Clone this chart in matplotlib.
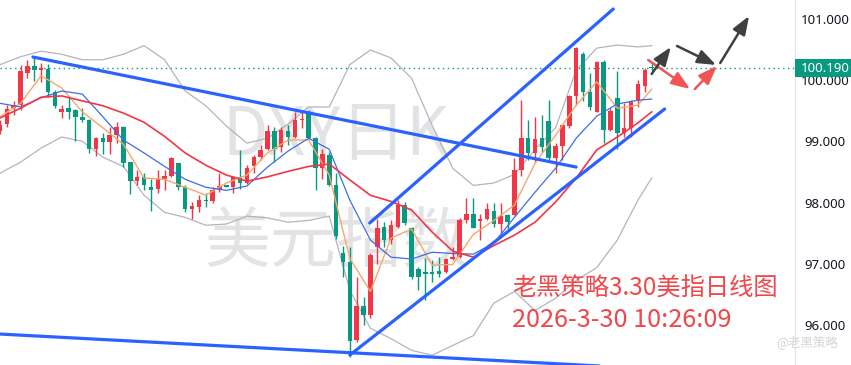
import matplotlib
matplotlib.use("Agg")
import matplotlib.pyplot as plt
import matplotlib.transforms as mtransforms
from matplotlib.patches import Rectangle

# daily candles, oldest first (price)
opens = [99.16, 99.29, 99.54, 99.59, 100.12, 100.23, 100.17, 100.18, 99.81, 99.47,
         99.54, 99.51, 99.39, 99.35, 98.88, 99.05, 98.99, 99.11, 99.23, 98.66,
         98.35, 98.41, 98.26, 98.22, 98.38, 98.43, 98.64, 98.26, 97.90, 97.93,
         98.04, 98.02, 98.22, 98.28, 98.26, 98.41, 98.32, 98.59, 98.74, 98.88,
         99.16, 98.91, 99.16, 99.07, 99.35, 99.48, 99.05, 98.56, 98.77, 98.28,
         97.18, 97.03, 95.76, 96.32, 96.17, 97.28, 97.61, 97.39, 97.61, 97.96,
         97.58, 96.91, 96.87, 96.87, 96.88, 96.87, 97.08, 97.11, 97.72, 97.82,
         97.70, 97.74, 97.86, 97.65, 97.79, 97.79, 98.54, 99.06, 98.81, 99.06,
         99.33, 98.73, 98.92, 99.25, 99.74, 100.42, 99.80, 99.48, 100.30, 99.19,
         99.70, 99.14, 99.21, 99.65, 99.91, 100.20]
highs = [99.35, 99.59, 99.66, 100.25, 100.33, 100.39, 100.28, 100.26, 99.84, 99.59,
         99.74, 99.53, 99.55, 99.36, 99.07, 99.13, 99.23, 99.32, 99.25, 98.67,
         98.53, 98.48, 98.38, 98.53, 98.53, 98.75, 98.65, 98.28, 98.01, 98.12,
         98.15, 98.26, 98.48, 98.28, 98.43, 98.86, 98.61, 98.77, 98.94, 99.26,
         99.24, 99.24, 99.26, 99.48, 99.48, 99.51, 99.07, 98.88, 98.83, 98.48,
         97.30, 97.28, 96.79, 96.46, 97.17, 97.74, 97.68, 97.71, 98.04, 98.01,
         97.61, 96.95, 97.09, 97.06, 97.11, 97.09, 97.28, 97.75, 98.07, 98.07,
         97.82, 97.99, 97.99, 97.99, 97.82, 98.72, 99.68, 99.35, 99.40, 99.43,
         99.68, 98.97, 99.29, 99.75, 100.54, 100.46, 100.11, 100.31, 100.32, 99.54,
         100.14, 99.62, 99.67, 100.00, 100.19, 100.30]
lows = [99.12, 99.24, 99.43, 99.51, 100.03, 99.99, 99.96, 99.73, 99.55, 99.38,
        99.37, 99.01, 99.32, 98.81, 98.76, 98.80, 98.80, 98.97, 98.58, 98.14,
        98.28, 98.20, 97.86, 98.15, 98.20, 98.42, 98.20, 97.85, 97.74, 97.85,
        97.93, 97.99, 98.17, 98.25, 98.15, 98.23, 98.31, 98.49, 98.69, 98.86,
        98.67, 98.83, 98.94, 99.05, 99.21, 99.03, 98.21, 98.38, 98.27, 97.41,
        96.79, 95.48, 95.72, 96.01, 96.11, 97.00, 97.28, 97.33, 97.58, 97.63,
        96.76, 96.57, 96.41, 96.70, 96.79, 96.85, 97.06, 97.10, 97.66, 97.58,
        97.39, 97.72, 97.60, 97.49, 97.55, 97.79, 98.43, 98.70, 98.67, 98.83,
        98.70, 98.48, 98.69, 99.21, 99.59, 99.65, 99.51, 99.47, 98.97, 99.16,
        98.88, 99.07, 99.07, 99.56, 99.81, 100.15]
closes = [99.26, 99.52, 99.59, 100.14, 100.23, 100.17, 100.19, 99.81, 99.58, 99.53,
          99.47, 99.40, 99.35, 98.87, 99.05, 98.99, 99.10, 99.23, 98.65, 98.35,
          98.41, 98.28, 98.21, 98.39, 98.43, 98.73, 98.26, 97.90, 97.94, 98.05,
          98.02, 98.21, 98.27, 98.26, 98.41, 98.32, 98.57, 98.74, 98.86, 99.17,
          98.88, 99.19, 99.07, 99.35, 99.37, 99.05, 98.56, 98.79, 98.28, 97.45,
          97.03, 95.75, 96.32, 96.16, 97.14, 97.59, 97.39, 97.63, 97.96, 97.67,
          96.79, 96.79, 96.84, 96.84, 96.84, 97.08, 97.11, 97.72, 97.82, 97.58,
          97.73, 97.89, 97.65, 97.78, 97.68, 98.54, 99.06, 98.81, 99.04, 98.90,
          98.72, 98.92, 99.26, 99.74, 100.53, 99.81, 99.56, 100.30, 99.19, 99.50,
          99.14, 99.21, 99.65, 99.93, 100.16, 100.19]

# indicator lines read every 3rd bar
line_idx = list(range(0, 94, 3)) + [95]
bb_upper = [100.25, 100.38, 100.47, 100.42, 100.33, 100.33, 100.42, 100.56, 100.33, 99.82,
            99.58, 99.25, 98.97, 99.05, 99.28, 99.56, 99.56, 100.25, 100.49, 100.36,
            100.03, 99.26, 98.56, 98.28, 98.32, 98.46, 98.87, 99.22, 100.16, 100.52,
            100.57, 100.54, 100.56]
bb_lower = [98.48, 98.66, 98.89, 99.07, 99.00, 98.74, 98.59, 98.12, 97.84, 97.76,
            97.63, 97.65, 97.78, 97.75, 97.68, 97.71, 97.78, 96.57, 95.95, 95.78,
            95.59, 95.51, 95.67, 95.83, 96.36, 96.55, 96.24, 96.44, 96.73, 96.94,
            97.39, 98.04, 98.40]
blue_ma = [99.62, 99.56, 99.71, 99.82, 99.77, 99.40, 99.02, 98.81, 98.59, 98.38,
           98.25, 98.20, 98.27, 98.58, 98.84, 99.05, 98.87, 98.04, 97.39, 97.11,
           97.08, 97.19, 97.17, 97.16, 97.34, 97.76, 98.17, 98.56, 99.05, 99.41,
           99.61, 99.67, 99.69]
red_ma = [99.38, 99.54, 99.72, 99.74, 99.66, 99.58, 99.46, 99.31, 99.08, 98.81,
          98.61, 98.45, 98.35, 98.42, 98.51, 98.59, 98.63, 98.37, 98.12, 98.02,
          97.88, 97.52, 97.21, 97.11, 97.30, 97.47, 97.68, 98.01, 98.40, 98.86,
          99.07, 99.30, 99.48]
orange_ma = [99.40, 99.62, 100.07, 99.87, 99.48, 99.22, 98.95, 98.40, 98.38, 98.25,
             98.12, 98.32, 98.45, 98.81, 99.02, 99.02, 98.45, 97.09, 96.55, 97.42,
             97.57, 96.98, 96.99, 97.48, 97.71, 97.96, 98.64, 99.10, 99.59, 99.97,
             99.54, 99.59, 99.85]

# hand drawn trend lines and arrows (bar index, price)
trend_lines = [((4.8, 100.375), (84.0, 98.58)),
               ((53.9, 97.667), (89.4, 101.158)),
               ((51.0, 95.514), (96.9, 99.527)),
               ((0.0, 95.856), (87.5, 95.334))]
red_arrows = [((94.5, 100.326), (100.6, 99.853)),
              ((101.3, 99.853), (104.5, 100.228))]
dark_arrows = [((95.0, 100.098), (97.8, 100.538)),
               ((98.7, 100.555), (104.4, 100.245)),
               ((105.0, 100.277), (109.2, 101.044))]

price_ticks = [96, 97, 98, 99, 100, 101]
last_price = 100.190

UP = '#f23645'
DOWN = '#089981'
CJK = ['Noto Sans CJK SC', 'DejaVu Sans']

fig = plt.figure(figsize=(8.51, 3.65), dpi=100)
ax = fig.add_axes([0, 0, 795 / 851, 1])
ax.set_xlim(0, 115.9)
ax.set_ylim(95.351, 101.305)

# watermark
ax.text(49, 99.08, 'DXY日K', fontsize=47.5, color='#e3e3e5', ha='center', va='center',
        family=CJK, zorder=0)
ax.text(49, 97.33, '美元指数', fontsize=47.5, color='#e3e3e5', ha='center', va='center',
        family=CJK, zorder=0)

# bollinger bands
ax.plot(line_idx, bb_upper, color='#b2b5be', lw=0.9, zorder=2)
ax.plot(line_idx, bb_lower, color='#b2b5be', lw=0.9, zorder=2)

# candles
for i in range(len(opens)):
    o, h, l, c = opens[i], highs[i], lows[i], closes[i]
    col = UP if c >= o else DOWN
    ax.vlines(i, l, h, color=col, lw=1, zorder=3)
    body = max(abs(c - o), 0.014)
    ax.bar(i, body, bottom=min(o, c), width=0.66, color=col, zorder=3)

# moving averages
ax.plot(line_idx, orange_ma, color='#f7a66c', lw=1, zorder=4)
ax.plot(line_idx, blue_ma, color='#3c6ee6', lw=0.9, zorder=4)
ax.plot(line_idx, red_ma, color='#f23645', lw=1.2, zorder=4)

for (x0, y0), (x1, y1) in trend_lines:
    ax.plot([x0, x1], [y0, y1], color='#2962ff', lw=2.3, zorder=5,
            solid_capstyle='round')

for arrows, col in ((red_arrows, '#f05454'), (dark_arrows, '#404040')):
    for start, end in arrows:
        ax.annotate('', xy=end, xytext=start, zorder=6,
                    arrowprops=dict(arrowstyle='-|>,head_length=0.8,head_width=0.3',
                                    color=col, lw=1.8, mutation_scale=14,
                                    shrinkA=0, shrinkB=0))

# last price line and label
ax.axhline(last_price, color=DOWN, lw=1, ls=(0, (1, 2.5)), zorder=1)
trans = mtransforms.blended_transform_factory(ax.transAxes, ax.transData)
ax.add_patch(Rectangle((1.0, last_price - 0.147), 56 / 795, 0.294, transform=trans,
                       facecolor=DOWN, edgecolor='none', clip_on=False, zorder=10))
ax.text(1.0 + 30 / 795, last_price, '%.3f' % last_price, transform=trans, color='white',
        fontsize=9.5, family='Noto Sans', ha='center', va='center', zorder=11,
        clip_on=False)

# annotation
ax.text(74.6, 96.6, '老黑策略3.30美指日线图', fontsize=17.5, color='#f0474b',
        family=CJK, ha='left', va='center', zorder=7)
ax.text(74.6, 96.08, '2026-3-30 10:26:09', fontsize=18.2, color='#f0474b',
        family=CJK, ha='left', va='center', zorder=7)
ax.text(113.2, 95.72, '@老黑策略', fontsize=9, color='#d4d4d6', family=CJK,
        ha='left', va='center', zorder=7)

# price axis on the right
for s in ('left', 'top', 'bottom'):
    ax.spines[s].set_visible(False)
ax.spines['right'].set_color('#e0e3eb')
ax.set_xticks([])
ax.yaxis.tick_right()
ax.set_yticks(price_ticks)
ax.set_yticklabels(['%.3f' % t for t in price_ticks])
ax.tick_params(axis='y', length=0, pad=21.6, labelsize=9.5, labelcolor='#131722')
for lab in ax.get_yticklabels():
    lab.set_horizontalalignment('center')
    lab.set_family('Noto Sans')

fig.savefig('out.png', dpi=100)
